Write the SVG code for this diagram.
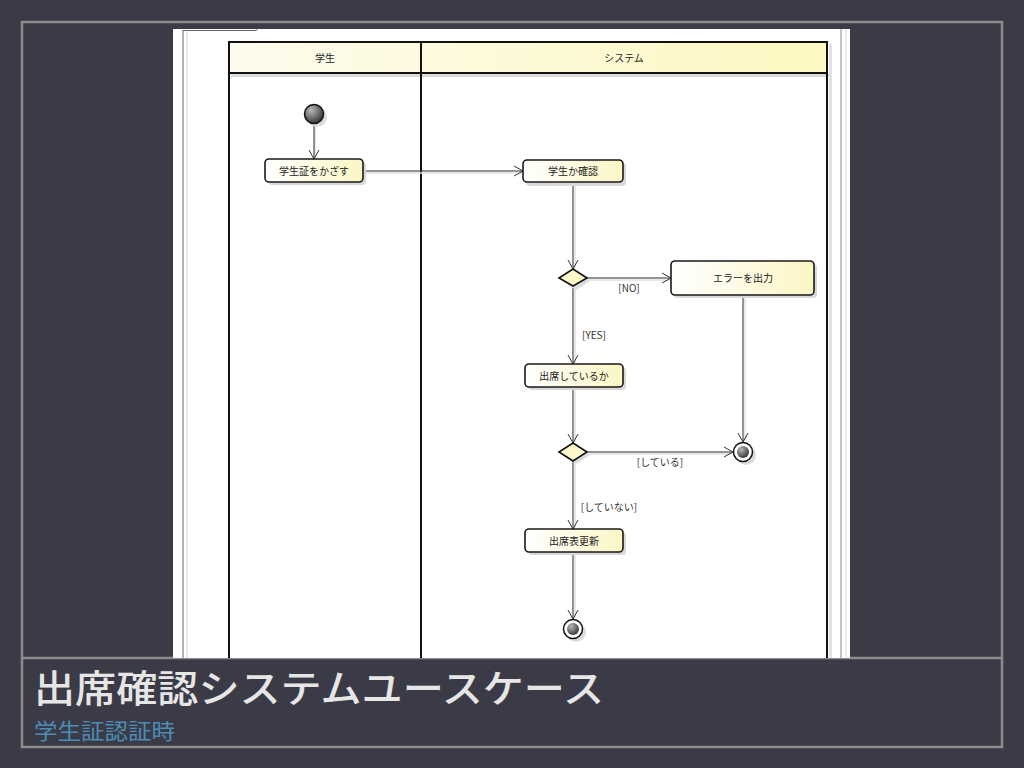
<svg xmlns="http://www.w3.org/2000/svg" width="1024" height="768" viewBox="0 0 1024 768">
  <defs>
    <linearGradient id="nodeFill" x1="0" y1="0" x2="1" y2="0">
      <stop offset="0" stop-color="#ffffff"/>
      <stop offset="1" stop-color="#fbf6c4"/>
    </linearGradient>
    <linearGradient id="headFill" x1="0" y1="0" x2="1" y2="0">
      <stop offset="0" stop-color="#fdfcee"/>
      <stop offset="1" stop-color="#fdf7c0"/>
    </linearGradient>
    <radialGradient id="ballFill" cx="0.35" cy="0.3" r="0.8">
      <stop offset="0" stop-color="#b8b8b8"/>
      <stop offset="1" stop-color="#2a2a2a"/>
    </radialGradient>
    <marker id="arr" markerWidth="12" markerHeight="12" refX="10" refY="6" orient="auto" markerUnits="userSpaceOnUse">
      <path d="M1,1 L10,6 L1,11" fill="none" stroke="#333" stroke-width="1"/>
    </marker>
    <style>
      .frame { fill: none; stroke: #8c8c88; stroke-width: 2.5; }
      .lane { fill: none; stroke: #111; stroke-width: 2; }
      .act { fill: url(#nodeFill); stroke: #1a1a1a; stroke-width: 1.6; }
      .shadow { fill: #d8d8d8; }
      .lbl { font-family: "Noto Sans CJK JP", "Noto Sans", sans-serif; font-size: 10px; fill: #222; text-anchor: middle; }
      .glbl { font-family: "Noto Sans CJK JP", "Noto Sans", sans-serif; font-size: 10px; fill: #333; text-anchor: middle; }
      .edge { fill: none; stroke: #2a2a2a; stroke-width: 1; marker-end: url(#arr); }
      .edgesh { fill: none; stroke: #e2e2e2; stroke-width: 1.5; }
    </style>
  </defs>

  <!-- background -->
  <rect x="0" y="0" width="1024" height="768" fill="#3b3b47"/>
  <rect x="22" y="22" width="980" height="725" class="frame"/>
  <line x1="22" y1="658" x2="1002" y2="658" class="frame"/>

  <!-- diagram sheet -->
  <rect x="173" y="29" width="677" height="629" fill="#ffffff"/>
  <line x1="183" y1="30" x2="183" y2="658" stroke="#666" stroke-width="1"/>
  <line x1="187" y1="30" x2="187" y2="658" stroke="#d8d8d8" stroke-width="1"/>
  <polyline points="183,30.5 256,30.5 259,28" fill="none" stroke="#666" stroke-width="1"/>
  <line x1="841" y1="29" x2="841" y2="658" stroke="#888" stroke-width="1"/>
  <line x1="846" y1="29" x2="846" y2="658" stroke="#dcdcdc" stroke-width="1"/>

  <!-- swimlanes -->
  <g id="lanes">
    <rect x="231" y="74" width="598" height="3" fill="#dadada"/>
    <rect x="829" y="44" width="3" height="614" fill="#e2e2e2"/>
    <rect x="229" y="42" width="598" height="31" fill="url(#headFill)"/>
    <line x1="229" y1="42" x2="827" y2="42" class="lane"/>
    <line x1="229" y1="73" x2="827" y2="73" class="lane"/>
    <line x1="229" y1="41" x2="229" y2="658" class="lane"/>
    <line x1="421" y1="41" x2="421" y2="658" class="lane"/>
    <line x1="827" y1="41" x2="827" y2="658" class="lane"/>
    <text x="325" y="62" class="lbl">学生</text>
    <text x="624" y="62" class="lbl">システム</text>
  </g>

  <!-- connectors -->
  <g id="connectors">
    <line x1="315" y1="125" x2="315" y2="158" class="edgesh"/>
    <line x1="363" y1="173" x2="522" y2="173" class="edgesh"/>
    <line x1="575" y1="183" x2="575" y2="268" class="edgesh"/>
    <line x1="588" y1="280" x2="670" y2="280" class="edgesh"/>
    <line x1="575" y1="287" x2="575" y2="363" class="edgesh"/>
    <line x1="575" y1="388" x2="575" y2="442" class="edgesh"/>
    <line x1="588" y1="454" x2="732" y2="454" class="edgesh"/>
    <line x1="745" y1="296" x2="745" y2="441" class="edgesh"/>
    <line x1="575" y1="462" x2="575" y2="528" class="edgesh"/>
    <line x1="575" y1="553" x2="575" y2="618" class="edgesh"/>

    <line x1="314" y1="124" x2="314" y2="159" class="edge"/>
    <line x1="363" y1="171" x2="523" y2="171" class="edge"/>
    <line x1="573" y1="182" x2="573" y2="269" class="edge"/>
    <line x1="587" y1="278" x2="671" y2="278" class="edge"/>
    <line x1="573" y1="286" x2="573" y2="364" class="edge"/>
    <line x1="573" y1="387" x2="573" y2="443" class="edge"/>
    <line x1="587" y1="452" x2="733" y2="452" class="edge"/>
    <line x1="743" y1="295" x2="743" y2="442" class="edge"/>
    <line x1="573" y1="461" x2="573" y2="529" class="edge"/>
    <line x1="573" y1="552" x2="573" y2="619" class="edge"/>

    <text x="629" y="292" class="glbl">[NO]</text>
    <text x="594" y="339" class="glbl">[YES]</text>
    <text x="660" y="466" class="glbl">[している]</text>
    <text x="609" y="511" class="glbl">[していない]</text>
  </g>

  <!-- nodes -->
  <g id="start">
    <circle cx="317" cy="117" r="10" fill="#dcdcdc"/>
    <circle cx="314" cy="114" r="9.5" fill="url(#ballFill)" stroke="#111" stroke-width="1.5"/>
  </g>

  <g id="n-kazasu">
    <rect x="268" y="162" width="98" height="23" rx="4" class="shadow"/>
    <rect x="265" y="159" width="98" height="23" rx="4" class="act"/>
    <text x="314" y="175" class="lbl">学生証をかざす</text>
  </g>

  <g id="n-kakunin">
    <rect x="526" y="163" width="100" height="23" rx="4" class="shadow"/>
    <rect x="523" y="160" width="100" height="22" rx="4" class="act"/>
    <text x="573" y="175" class="lbl">学生か確認</text>
  </g>

  <g id="d1">
    <polygon points="576,273 590,281 576,290 562,281" fill="#dcdcdc"/>
    <polygon points="573,269 587,278 573,286 559,278" fill="#fdf8cc" stroke="#111" stroke-width="1.6"/>
  </g>

  <g id="n-error">
    <rect x="674" y="264" width="143" height="34" rx="4" class="shadow"/>
    <rect x="671" y="261" width="143" height="34" rx="4" class="act"/>
    <text x="743" y="282" class="lbl">エラーを出力</text>
  </g>

  <g id="n-shusseki">
    <rect x="528" y="367" width="98" height="23" rx="4" class="shadow"/>
    <rect x="525" y="364" width="98" height="23" rx="4" class="act"/>
    <text x="574" y="380" class="lbl">出席しているか</text>
  </g>

  <g id="d2">
    <polygon points="576,447 590,455 576,464 562,455" fill="#dcdcdc"/>
    <polygon points="573,443 587,452 573,461 559,452" fill="#fdf8cc" stroke="#111" stroke-width="1.6"/>
  </g>

  <g id="end1">
    <circle cx="746" cy="455" r="10" fill="#dcdcdc"/>
    <circle cx="743" cy="452" r="9.5" fill="#fff" stroke="#111" stroke-width="1.5"/>
    <circle cx="743" cy="452" r="6" fill="url(#ballFill)"/>
  </g>

  <g id="n-koushin">
    <rect x="528" y="532" width="98" height="23" rx="4" class="shadow"/>
    <rect x="525" y="529" width="98" height="23" rx="4" class="act"/>
    <text x="574" y="545" class="lbl">出席表更新</text>
  </g>

  <g id="end2">
    <circle cx="576" cy="632" r="10" fill="#dcdcdc"/>
    <circle cx="573" cy="629" r="9.5" fill="#fff" stroke="#111" stroke-width="1.5"/>
    <circle cx="573" cy="629" r="6" fill="url(#ballFill)"/>
  </g>

  <!-- titles -->
  <text x="34" y="702" font-family="'Noto Sans CJK JP', 'Noto Sans', sans-serif" font-size="38" font-weight="500" fill="#e6e6e6" textLength="570" lengthAdjust="spacingAndGlyphs">出席確認システムユースケース</text>
  <text x="34" y="739" font-family="'Noto Sans CJK JP', 'Noto Sans', sans-serif" font-size="22" fill="#4b8db6" textLength="141" lengthAdjust="spacingAndGlyphs">学生証認証時</text>
</svg>
